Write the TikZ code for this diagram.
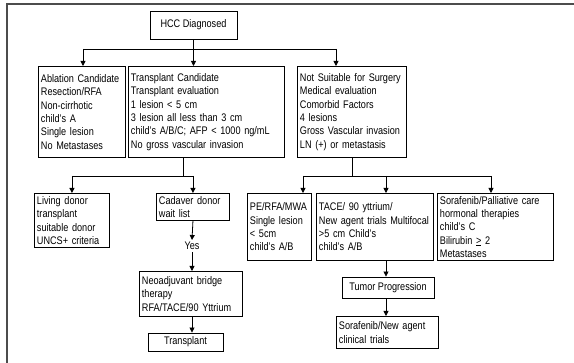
\documentclass[tikz,border=0pt]{standalone}
\usepackage{fontspec}
\setmainfont{Liberation Sans}[FakeStretch=0.83]
\usetikzlibrary{arrows.meta,calc}
\begin{document}
\begin{tikzpicture}[x=1pt,y=-1pt,
  box/.style={draw,line width=0.9pt,anchor=north west,inner xsep=2.5pt,inner ysep=1pt,
    align=left,font=\fontsize{11}{13.3}\selectfont,
    execute at begin node={\hyphenpenalty=10000\relax}},
  plain/.style={draw,line width=0.9pt,inner sep=1pt,font=\fontsize{11}{13.3}\selectfont},
  arr/.style={line width=0.8pt,-{Triangle[length=5pt,width=5pt]}},
  ln/.style={line width=0.8pt}]
\useasboundingbox (0,0) rectangle (574,363);
\draw[line width=1.5pt,black!70] (574,4) -- (7,4) -- (7,363);
\node[plain,minimum width=87pt,minimum height=28pt] (hcc) at (193.5,25) {HCC Diagnosed};
\node[box,text width=82pt,minimum height=91pt] (abl) at (38,66) {Ablation Candidate\\Resection/RFA\\Non-cirrhotic\\child's A\\Single lesion\\No Metastases};
\node[box,text width=151pt,minimum height=91pt] (tpc) at (128,66) {Transplant Candidate\\Transplant evaluation\\1 lesion < 5 cm\\3 lesion all less than 3 cm\\child's A/B/C; AFP < 1000 ng/mL\\No gross vascular invasion};
\node[box,text width=104pt,minimum height=91pt] (nos) at (297,66) {Not Suitable for Surgery\\Medical evaluation\\Comorbid Factors\\4 lesions\\Gross Vascular invasion\\LN (+) or metastasis};
\node[box,text width=70pt,minimum height=54pt] (liv) at (34,193) {Living donor\\transplant\\suitable donor\\UNCS+ criteria};
\node[box,text width=68pt,minimum height=27pt] (cad) at (156,193) {Cadaver donor\\wait list};
\node[font=\fontsize{11}{13.3}\selectfont,inner sep=2pt] (yes) at (192,246) {Yes};
\node[box,text width=98pt,minimum height=45pt] (neo) at (139,271) {Neoadjuvant bridge\\therapy\\RFA/TACE/90 Yttrium};
\node[plain,minimum width=75pt,minimum height=18pt] (tx) at (185.5,342) {Transplant};
\node[box,text width=59pt,minimum height=67pt] (pe) at (247,193) {PE/RFA/MWA\\Single lesion\\< 5cm\\child's A/B};
\node[box,text width=112pt,minimum height=67pt] (tace) at (316,193) {TACE/ 90 yttrium/\\New agent trials Multifocal\\>5 cm Child's\\child's A/B};
\node[box,text width=111pt,minimum height=67pt] (sor) at (437,193) {Sorafenib/Palliative care\\hormonal therapies\\child's C\\Bilirubin \underline{>} 2\\Metastases};
\node[plain,minimum width=92pt,minimum height=21pt] (tum) at (388,287.5) {Tumor Progression};
\node[box,text width=97pt,minimum height=32pt] (sn) at (336,316) {Sorafenib/New agent\\clinical trials};
% top branch
\coordinate (t1) at (83,49);
\coordinate (t3) at (336,49);
\draw[ln] (hcc.south) -- (hcc.south |- t1);
\draw[ln] (t1) -- (t3);
\draw[arr] (t1) -- (t1 |- abl.north);
\draw[arr] (hcc.south |- t1) -- (hcc.south |- tpc.north);
\draw[arr] (t3) -- (t3 |- nos.north);
% transplant branch
\coordinate (m0) at (183,176);
\draw[ln] (m0 |- tpc.south) -- (m0);
\draw[ln] (liv.north |- m0) -- (cad.north |- m0);
\draw[arr] (liv.north |- m0) -- (liv.north);
\draw[arr] (cad.north |- m0) -- (cad.north);
\draw[arr] (cad.south) -- (yes.north);
\draw[arr] (yes.south) -- (yes.south |- neo.north);
\draw[arr] (yes.south |- neo.south) -- (yes.south |- tx.north);
% not suitable branch
\coordinate (n0) at (352,176);
\coordinate (n1) at (303,176);
\coordinate (n2) at (386,176);
\coordinate (n3) at (491,176);
\draw[ln] (n0 |- nos.south) -- (n0);
\draw[ln] (n1) -- (n3);
\draw[arr] (n1) -- (n1 |- pe.north);
\draw[arr] (n2) -- (n2 |- tace.north);
\draw[arr] (n3) -- (n3 |- sor.north);
\draw[arr] (n2 |- tace.south) -- (n2 |- tum.north);
\draw[arr] (n2 |- tum.south) -- (n2 |- sn.north);
\end{tikzpicture}
\end{document}
